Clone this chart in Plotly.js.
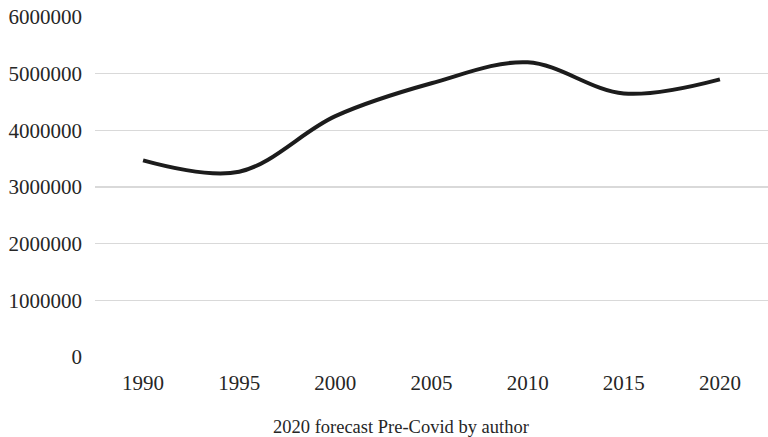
<!DOCTYPE html>
<html>
<head>
<meta charset="utf-8">
<script src="https://cdn.plot.ly/plotly-3.0.1.min.js"></script>
<style>
  html, body { margin: 0; padding: 0; background: #fff; }
  #chart { width: 768px; height: 437px; }
</style>
</head>
<body>
<div id="chart"></div>
<script>
// Yearly totals, 1990–2020 (2020 is a pre-Covid forecast)
const years = ['1990', '1995', '2000', '2005', '2010', '2015', '2020'];
const totals = [3470000, 3270000, 4250000, 4830000, 5200000, 4650000, 4900000];
const yTicks = [0, 1000000, 2000000, 3000000, 4000000, 5000000, 6000000];
const caption = '2020 forecast Pre-Covid by author';

const serif = 'Liberation Serif, Times New Roman, serif';

const trace = {
  type: 'scatter',
  mode: 'lines',
  x: years,
  y: totals,
  line: { color: '#1c1c1c', width: 4, shape: 'spline', smoothing: 1 },
  hoverinfo: 'x+y'
};

const layout = {
  width: 768,
  height: 437,
  margin: { l: 95, r: 0, t: 17, b: 80 },
  paper_bgcolor: '#ffffff',
  plot_bgcolor: '#ffffff',
  showlegend: false,
  font: { family: serif, size: 21, color: '#262626' },
  xaxis: {
    type: 'category',
    range: [-0.5, years.length - 0.5],
    showgrid: false,
    showline: false,
    zeroline: false,
    ticks: '',
    ticklabelstandoff: 11,
    tickfont: { family: serif, size: 21, color: '#262626' }
  },
  yaxis: {
    range: [0, 6000000],
    tickvals: yTicks,
    ticktext: yTicks.map(v => String(v)),
    showgrid: true,
    gridcolor: '#d9d9d9',
    gridwidth: 1.5,
    zeroline: false,
    showline: false,
    ticks: '',
    ticklabelstandoff: 12,
    tickfont: { family: serif, size: 21, color: '#262626' }
  },
  annotations: [{
    text: caption,
    xref: 'paper', yref: 'paper',
    x: 0.455, y: -0.206,
    xanchor: 'center', yanchor: 'middle',
    showarrow: false,
    font: { family: serif, size: 18.5, color: '#262626' }
  }]
};

Plotly.newPlot('chart', [trace], layout, { displayModeBar: false, staticPlot: true });
</script>
</body>
</html>
